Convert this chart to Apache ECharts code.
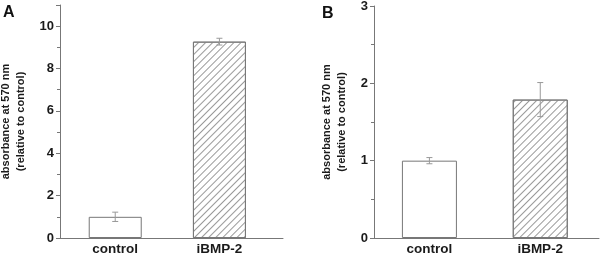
<!DOCTYPE html>
<html><head><meta charset="utf-8">
<script src="https://cdn.jsdelivr.net/npm/echarts@6/dist/echarts.min.js"></script>
<style>html,body{margin:0;padding:0;background:#fff}#c{width:600px;height:255px}</style>
</head><body><div id="c"></div>
<script>
const categories = ['control', 'iBMP-2'];
const valuesA = [1.0, 9.27];
const errorsA = [0.22, 0.16];
const valuesB = [1.0, 1.79];
const errorsB = [0.04, 0.22];
const yTitle = 'absorbance at 570 nm\n(relative to control)';
const panelLabels = ['A', 'B'];

const chart = echarts.init(document.getElementById('c'), null, {renderer: 'canvas'});
const FONT = 'Liberation Sans, Arial, sans-serif';
const axisColor = '#777';
const hatch = {symbol: 'rect', symbolSize: 1, dashArrayX: [1, 0], dashArrayY: [1, 3.5], rotation: -Math.PI / 4, color: '#999'};

function barData(vals) {
  return vals.map((v, i) => ({
    value: [i + 1, v],
    itemStyle: i === 1 ? {color: '#fff', decal: hatch} : {color: '#fff'}
  }));
}
function errData(vals, errs) {
  return vals.map((v, i) => [i + 1, v - errs[i], v + errs[i]]);
}
function errRender(params, api) {
  const x = api.value(0);
  const lo = api.coord([x, api.value(1)]);
  const hi = api.coord([x, api.value(2)]);
  const w = 3;
  const st = {stroke: '#999', lineWidth: 1, fill: null};
  return {type: 'group', children: [
    {type: 'line', shape: {x1: lo[0], y1: lo[1], x2: hi[0], y2: hi[1]}, style: st},
    {type: 'line', shape: {x1: lo[0] - w, y1: lo[1], x2: lo[0] + w, y2: lo[1]}, style: st},
    {type: 'line', shape: {x1: hi[0] - w, y1: hi[1], x2: hi[0] + w, y2: hi[1]}, style: st}
  ]};
}
function xAxis(idx, min, max) {
  return {
    type: 'value', gridIndex: idx, min: min, max: max,
    axisLine: {show: true, lineStyle: {color: axisColor, width: 1}},
    axisTick: {show: false}, splitLine: {show: false},
    axisLabel: {
      customValues: [1, 2],
      formatter: v => categories[Math.round(v) - 1] || '',
      color: '#1a1a1a', fontFamily: FONT, fontWeight: 'bold', fontSize: 13.5, margin: 4
    }
  };
}
function yAxis(idx, max, interval, gap) {
  return {
    type: 'value', gridIndex: idx, min: 0, max: max, interval: interval,
    name: yTitle, nameLocation: 'middle', nameGap: gap, nameRotate: 90, nameMoveOverlap: false,
    nameTextStyle: {fontFamily: FONT, fontWeight: 'bold', fontSize: 11, color: '#1a1a1a', lineHeight: 15},
    axisLine: {show: true, lineStyle: {color: axisColor, width: 1}},
    axisTick: {show: true, length: 4, lineStyle: {color: axisColor}},
    minorTick: {show: true, splitNumber: 2, length: 3, lineStyle: {color: axisColor}},
    splitLine: {show: false}, minorSplitLine: {show: false},
    axisLabel: {color: '#1a1a1a', fontFamily: FONT, fontWeight: 'bold', fontSize: 13, margin: 6, showMaxLabel: Number.isInteger(max / interval)}
  };
}

chart.setOption({
  animation: false,
  backgroundColor: '#fff',
  title: [
    {text: panelLabels[0], left: 3, top: 5, padding: 0, textStyle: {fontFamily: FONT, fontWeight: 'bold', fontSize: 16, color: '#111'}},
    {text: panelLabels[1], left: 322, top: 6, padding: 0, textStyle: {fontFamily: FONT, fontWeight: 'bold', fontSize: 16, color: '#111'}}
  ],
  grid: [
    {left: 60, top: 5, right: 317, bottom: 17, outerBoundsMode: 'none', containLabel: false},
    {left: 374, top: 6, right: 1, bottom: 17, outerBoundsMode: 'none', containLabel: false}
  ],
  xAxis: [xAxis(0, 0.47, 2.61), xAxis(1, 0.5, 2.53)],
  yAxis: [yAxis(0, 11, 2, 32), yAxis(1, 3, 1, 25)],
  series: [
    {type: 'bar', xAxisIndex: 0, yAxisIndex: 0, barWidth: 53, data: barData(valuesA),
     itemStyle: {borderColor: '#777', borderWidth: 1}},
    {type: 'custom', xAxisIndex: 0, yAxisIndex: 0, renderItem: errRender, data: errData(valuesA, errorsA), z: 5},
    {type: 'bar', xAxisIndex: 1, yAxisIndex: 1, barWidth: 55, data: barData(valuesB),
     itemStyle: {borderColor: '#777', borderWidth: 1}},
    {type: 'custom', xAxisIndex: 1, yAxisIndex: 1, renderItem: errRender, data: errData(valuesB, errorsB), z: 5}
  ]
});
</script></body></html>
